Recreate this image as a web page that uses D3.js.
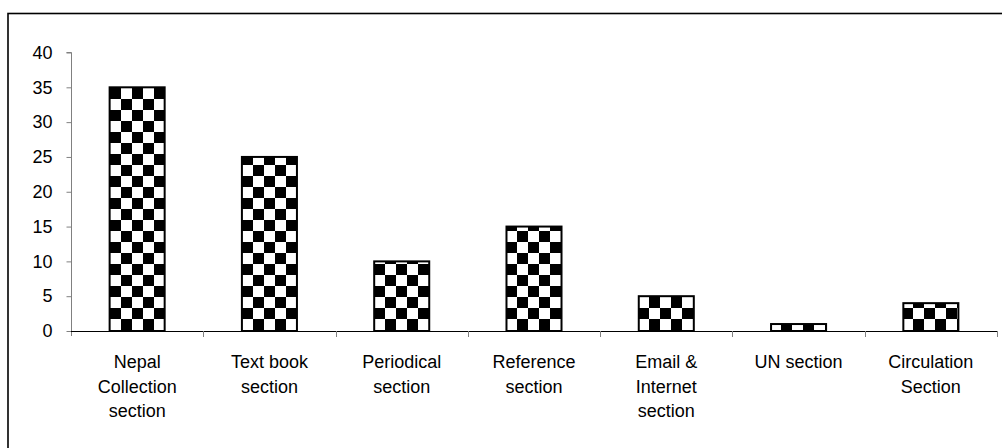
<!DOCTYPE html>
<html><head><meta charset="utf-8">
<script src="https://cdn.jsdelivr.net/npm/d3@7"></script>
<style>html,body{margin:0;padding:0;background:#fff;}svg{display:block;}</style>
</head><body>
<script>
const categories = [
  ["Nepal","Collection","section"],
  ["Text book","section"],
  ["Periodical","section"],
  ["Reference","section"],
  ["Email &","Internet","section"],
  ["UN section"],
  ["Circulation","Section"]
];
const values = [35, 25, 10, 15, 5, 1, 4];
const yTicks = [0, 5, 10, 15, 20, 25, 30, 35, 40];

const W = 1002, H = 448;
const svg = d3.select("body").append("svg").attr("width", W).attr("height", H);
const font = "'Liberation Sans', Arial, sans-serif";
const fs = 18;

// frame
svg.append("rect").attr("x", 8).attr("y", 13.5).attr("width", 1000).attr("height", 500)
  .attr("fill", "none").attr("stroke", "#000").attr("stroke-width", 1.6);

const defs = svg.append("defs");
const cell = 11;
const pat = defs.append("pattern").attr("id", "checker").attr("patternUnits", "userSpaceOnUse")
  .attr("width", cell * 2).attr("height", cell * 2).attr("x", 0).attr("y", 0);
pat.append("rect").attr("width", cell * 2).attr("height", cell * 2).attr("fill", "#fff");
pat.append("rect").attr("x", 0).attr("y", 0).attr("width", cell).attr("height", cell).attr("fill", "#000");
pat.append("rect").attr("x", cell).attr("y", cell).attr("width", cell).attr("height", cell).attr("fill", "#000");

const x0 = 71, x1 = 997, yTop = 52.5, yBase = 331;
const x = d3.scaleBand().domain(d3.range(categories.length)).range([x0, x1])
  .paddingInner(0.584).paddingOuter(0.292);
const y = d3.scaleLinear().domain([0, 40]).range([yBase, yTop]);

// bars
svg.append("g").selectAll("rect").data(values).join("rect")
  .attr("x", (d, i) => x(i)).attr("width", x.bandwidth())
  .attr("y", d => y(d)).attr("height", d => yBase - y(d))
  .attr("fill", "url(#checker)").attr("stroke", "#000").attr("stroke-width", 2);

// y axis
const yAxis = d3.axisLeft(y).tickValues(yTicks).tickSize(5).tickPadding(14);
const gy = svg.append("g").attr("transform", `translate(${x0 + 0.5},0)`).call(yAxis);
gy.select(".domain").attr("stroke", "#808080").attr("d", `M-5,${y(40)}H0V${yBase + 5}`);
gy.selectAll(".tick line").attr("stroke", "#808080");
gy.selectAll("text").attr("font-family", font).attr("font-size", fs).attr("fill", "#000");

// x axis
const step = x.step();
const bounds = d3.range(categories.length + 1).map(i => x0 + i * step);
const gx = svg.append("g");
gx.append("line").attr("x1", x0).attr("x2", x1).attr("y1", yBase + 0.5).attr("y2", yBase + 0.5)
  .attr("stroke", "#000").attr("stroke-width", 1.2);
gx.selectAll("line.t").data(bounds.slice(1)).join("line").attr("class", "t")
  .attr("x1", d => Math.round(d) + 0.5).attr("x2", d => Math.round(d) + 0.5)
  .attr("y1", yBase).attr("y2", yBase + 6).attr("stroke", "#808080");

// category labels
const lab = svg.append("g").selectAll("text").data(categories).join("text")
  .attr("text-anchor", "middle").attr("font-family", font).attr("font-size", fs).attr("fill", "#000")
  .attr("transform", (d, i) => `translate(${x(i) + x.bandwidth() / 2},368)`);
lab.selectAll("tspan").data(d => d).join("tspan")
  .attr("x", 0).attr("y", (d, j) => j * 24.5).text(d => d);
</script>
</body></html>
